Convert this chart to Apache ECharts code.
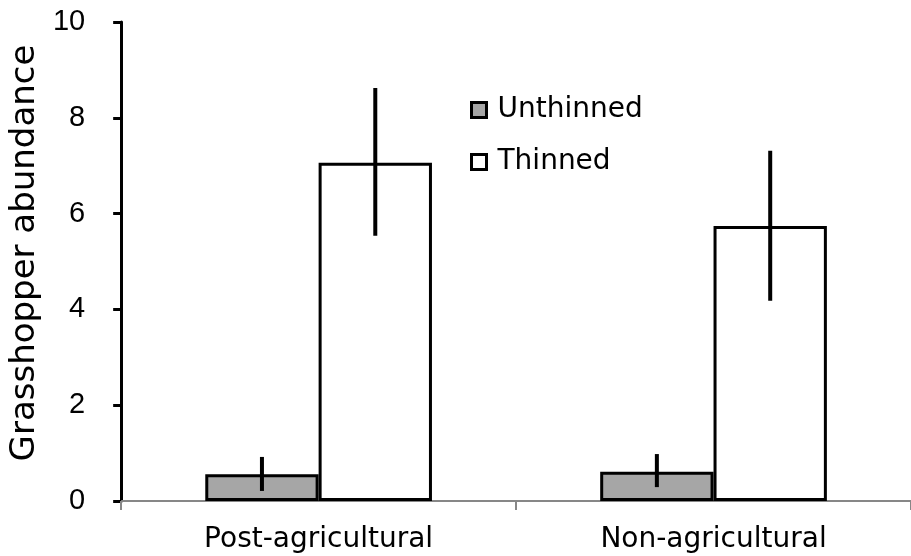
<!DOCTYPE html>
<html>
<head>
<meta charset="utf-8">
<style>
  html, body { margin: 0; padding: 0; background: #fff; }
  #chart { width: 911px; height: 556px; }
</style>
<script src="https://cdn.jsdelivr.net/npm/echarts@6/dist/echarts.min.js"></script>
</head>
<body>
<div id="chart"></div>
<script>
const categories = ['Post-agricultural', 'Non-agricultural'];
const seriesNames = ['Unthinned', 'Thinned'];
const unthinned = [0.56, 0.61];
const unthinnedHigh = [0.92, 0.98];
const unthinnedLow = [0.21, 0.29];
const thinned = [7.06, 5.74];
const thinnedHigh = [8.62, 7.31];
const thinnedLow = [5.54, 4.18];
const yMin = 0, yMax = 10, yInterval = 2;

const BAR_FRAC = 0.287;
const TEXT_FONT = '"DejaVu Sans", sans-serif';
const NUM_FONT = '"Liberation Sans", Arial, sans-serif';

function errSeries(name, high, low, sign) {
  return {
    type: 'custom',
    name: name + ' error',
    z: 10,
    silent: true,
    data: categories.map((c, i) => [i, high[i], low[i]]),
    renderItem: function (params, api) {
      const i = api.value(0);
      const top = api.coord([i, api.value(1)]);
      const bot = api.coord([i, api.value(2)]);
      const band = api.size([1, 0])[0];
      const x = top[0] + sign * band * BAR_FRAC / 2;
      return {
        type: 'line',
        shape: { x1: x, y1: top[1], x2: x, y2: bot[1] },
        style: { stroke: '#000', lineWidth: 4 }
      };
    }
  };
}

const chart = echarts.init(document.getElementById('chart'), null, { renderer: 'canvas' });
chart.setOption({
  animation: false,
  backgroundColor: '#ffffff',
  grid: { left: 116, width: 803, top: 22, bottom: 55, containLabel: false },
  legend: {
    orient: 'vertical',
    left: 470,
    top: 95,
    padding: 0,
    itemGap: 22,
    itemWidth: 15,
    itemHeight: 15,
    icon: 'rect',
    data: [
      { name: seriesNames[0], itemStyle: { color: '#a6a6a6', borderColor: '#000', borderWidth: 3 } },
      { name: seriesNames[1], itemStyle: { color: '#ffffff', borderColor: '#000', borderWidth: 3 } }
    ],
    textStyle: { fontFamily: TEXT_FONT, fontSize: 28, color: '#000', lineHeight: 30, padding: [0, 0, 0, 6] }
  },
  xAxis: {
    type: 'category',
    data: categories,
    boundaryGap: true,
    axisLine: { show: true, lineStyle: { color: '#878787', width: 2 } },
    axisTick: { show: true, inside: false, length: 9, lineStyle: { color: '#878787', width: 2 } },
    axisLabel: { fontFamily: TEXT_FONT, fontSize: 28, color: '#000', margin: 25, lineHeight: 28 },
    splitLine: { show: false }
  },
  yAxis: {
    type: 'value',
    min: yMin,
    max: yMax,
    interval: yInterval,
    name: 'Grasshopper abundance',
    nameLocation: 'middle',
    nameRotate: 90,
    nameGap: 75,
    nameTextStyle: { fontFamily: TEXT_FONT, fontSize: 34, color: '#000', lineHeight: 34, padding: [0, 0, 0, 17] },
    axisLine: { show: true, lineStyle: { color: '#000', width: 3 } },
    axisTick: { show: true, inside: false, length: 8, lineStyle: { color: '#000', width: 3 } },
    axisLabel: { fontFamily: NUM_FONT, fontSize: 29, color: '#000', margin: 36 },
    splitLine: { show: false }
  },
  series: [
    {
      type: 'bar',
      name: seriesNames[0],
      data: unthinned,
      barWidth: (BAR_FRAC * 100) + '%',
      barGap: '0%',
      itemStyle: { color: '#a6a6a6', borderColor: '#000', borderWidth: 3 },
      z: 3
    },
    {
      type: 'bar',
      name: seriesNames[1],
      data: thinned,
      barWidth: (BAR_FRAC * 100) + '%',
      barGap: '0%',
      itemStyle: { color: '#ffffff', borderColor: '#000', borderWidth: 3 },
      z: 3
    },
    errSeries(seriesNames[0], unthinnedHigh, unthinnedLow, -1),
    errSeries(seriesNames[1], thinnedHigh, thinnedLow, 1)
  ]
});
</script>
</body>
</html>
